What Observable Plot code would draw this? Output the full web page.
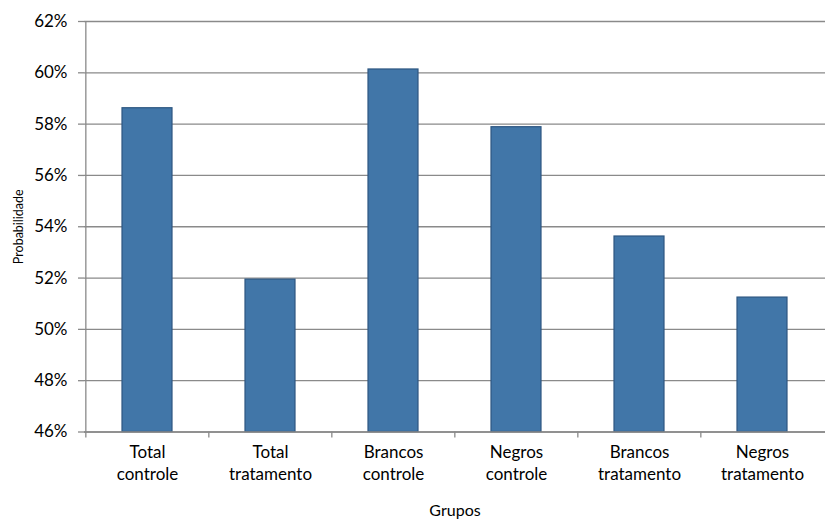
<!DOCTYPE html>
<html>
<head>
<meta charset="utf-8">
<script src="https://cdn.jsdelivr.net/npm/d3@7"></script>
<script src="https://cdn.jsdelivr.net/npm/@observablehq/plot@0.6"></script>
<style>
  html, body { margin: 0; padding: 0; background: #fff; overflow: hidden; }
  #chart svg { display: block; }
</style>
</head>
<body>
<div id="chart"></div>
<script>
const categories = ["Total controle", "Total tratamento", "Brancos controle", "Negros controle", "Brancos tratamento", "Negros tratamento"];
const values = [58.62, 51.94, 60.13, 57.88, 53.62, 51.24];
const yTicks = [46, 48, 50, 52, 54, 56, 58, 60, 62];
const yLabel = "Probabilidade";
const xLabel = "Grupos";

const data = categories.map((c, i) => ({group: c, value: values[i]}));

const W = 825, H = 521;
const xRange = [84, 824];
const yRange = [431.5, 21];
const paddingInner = 0.595, paddingOuter = 0.2975;
const step = (xRange[1] - xRange[0]) / (categories.length - paddingInner + 2 * paddingOuter);
const grid = "#8a8a8a";
const font = "Lato, 'Open Sans', sans-serif";

const chart = Plot.plot({
  width: W,
  height: H,
  marginLeft: 84,
  marginRight: 0,
  marginTop: 21,
  marginBottom: 89.5,
  style: {fontFamily: font, fontSize: "17px", color: "#000", background: "#fff"},
  x: {type: "band", domain: categories, range: xRange, paddingInner, paddingOuter},
  y: {type: "linear", domain: [yTicks[0], yTicks[yTicks.length - 1]], range: yRange},
  marks: [
    Plot.gridY(yTicks, {stroke: grid, strokeOpacity: 1, strokeWidth: 1.3}),
    Plot.ruleX(categories.slice(0, 1), {x: d => d, dx: -step / 2, stroke: grid, strokeWidth: 1.3}),
    Plot.ruleX(categories, {x: d => d, y1: yTicks[0], y2: yTicks[0], dx: -step / 2, insetBottom: -6, stroke: grid, strokeWidth: 1.3}),
    Plot.barY(data, {x: "group", y1: yTicks[0], y2: "value", fill: "#4176a8", stroke: "#2d5681", strokeWidth: 1.2}),
    Plot.ruleY([yTicks[0]], {stroke: grid, strokeWidth: 1.3}),
    Plot.axisY(yTicks, {tickFormat: d => d + "%", tickSize: 6, tickPadding: 11, stroke: grid, strokeWidth: 1.3, label: null, fontSize: 17}),
    Plot.axisX({tickSize: 0, tickPadding: 11, tickFormat: d => d.replace(" ", "\n"), lineHeight: 1.28, label: null, fontSize: 17}),
    Plot.text([yLabel], {frameAnchor: "left", textAnchor: "middle", rotate: -90, dx: -66, fontSize: 12.5, fill: "#000"}),
    Plot.text([xLabel], {frameAnchor: "bottom", textAnchor: "middle", dy: 84, fontSize: 16, fill: "#000"})
  ]
});
document.getElementById("chart").appendChild(chart);
</script>
</body>
</html>
